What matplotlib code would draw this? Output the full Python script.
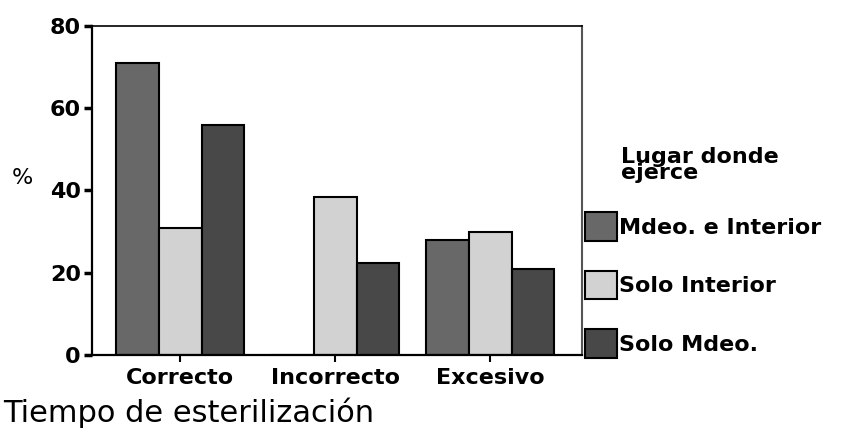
import numpy as np
import matplotlib.pyplot as plt

categories = ["Correcto", "Incorrecto", "Excesivo"]
series_names = ["Mdeo. e Interior", "Solo Interior", "Solo Mdeo."]
mdeo_interior = [71, 0, 28]
solo_interior = [31, 38.5, 30]
solo_mdeo = [56, 22.5, 21]
yticks = [0, 20, 40, 60, 80]

colors = ["#686868", "#d2d2d2", "#484848"]

fig = plt.figure(figsize=(8.52, 4.3), dpi=100)
ax = fig.add_axes([0.108, 0.174, 0.575, 0.766])

x = np.arange(len(categories))
width = 0.275
for k, (vals, name) in enumerate(zip([mdeo_interior, solo_interior, solo_mdeo], series_names)):
    ax.bar(x + (k - 1) * width, vals, width, color=colors[k],
           edgecolor="black", linewidth=1.5, label=name, zorder=2)

ax.set_xlim(-0.57, 2.59)
ax.set_ylim(0, 80)
ax.set_yticks(yticks)
ax.set_xticks(x, labels=categories)

for lab in ax.get_yticklabels() + ax.get_xticklabels():
    lab.set_fontweight("bold")
    lab.set_fontsize(16)
ax.tick_params(axis="y", direction="out", length=6, width=2.5, pad=2)
ax.tick_params(axis="x", direction="out", length=5, width=1.5, pad=4)

for side in ["left", "bottom", "top"]:
    ax.spines[side].set_color("black")
ax.spines["left"].set_linewidth(1.6)
ax.spines["bottom"].set_linewidth(1.6)
ax.spines["top"].set_linewidth(1.2)
ax.spines["right"].set_color("#555555")
ax.spines["right"].set_linewidth(1.5)

fig.text(12 / 852, 1 - 178 / 430, "%", fontsize=16, va="center", ha="left")
fig.text(3 / 852, 1 - 413 / 430, "Tiempo de esterilización", fontsize=22,
         va="center", ha="left", family="DejaVu Sans")

fig.text(621 / 852, 1 - 147 / 430, "Lugar donde\nejerce", fontsize=16,
         fontweight="bold", va="top", ha="left", linespacing=0.72)

leg = ax.legend(loc="upper left", bbox_to_anchor=(585 / 852, 1 - 212 / 430),
                bbox_transform=fig.transFigure, frameon=False,
                prop={"weight": "bold", "size": 16}, borderpad=0, borderaxespad=0,
                handlelength=1.45, handleheight=1.6, handletextpad=0.1,
                labelspacing=1.35)

fig.savefig("out.png", dpi=100)
